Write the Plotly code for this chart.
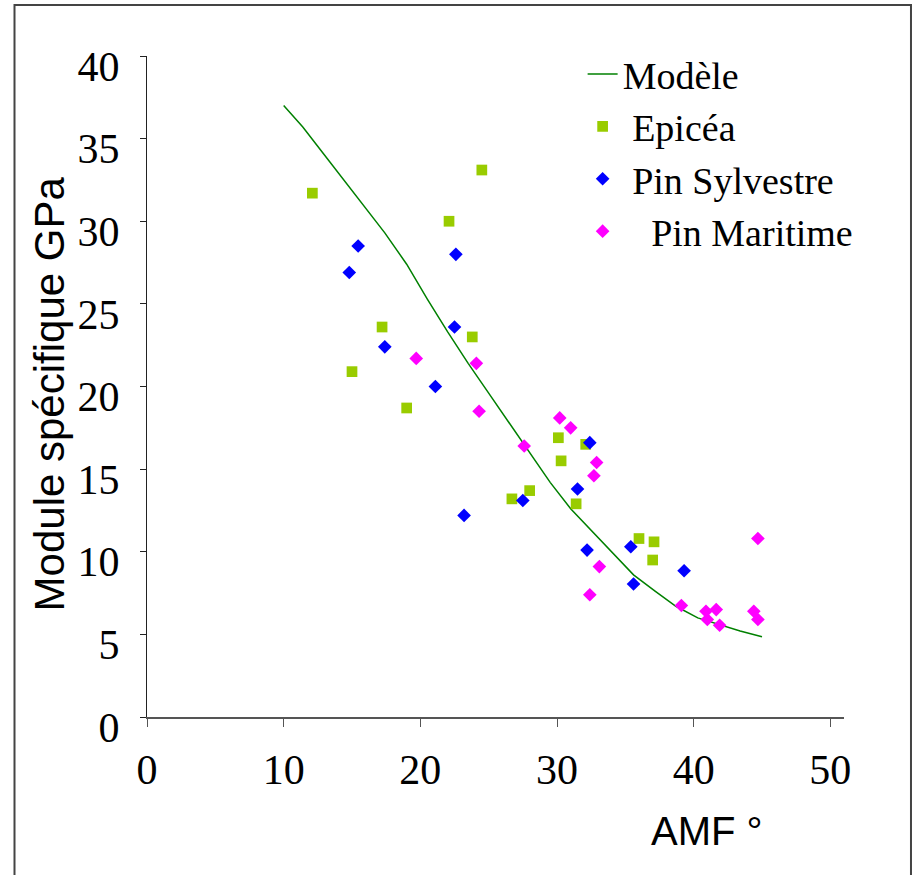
import plotly.graph_objects as go

# ---- data ----
model_x = [10, 11.4, 12.9, 14.4, 15.9, 17.4, 19, 20.5, 22, 23.5, 25, 26.5, 28, 29.5,
           31, 32.5, 34, 35.6, 37.2, 38.7, 40.3, 41.8, 43.4, 45]
model_y = [37.0, 35.7, 34.1, 32.5, 30.9, 29.3, 27.4, 25.3, 23.3, 21.4, 19.6, 17.8, 16.0, 14.2,
           12.6, 11.3, 10.0, 8.6, 7.6, 6.7, 6.0, 5.6, 5.2, 4.85]

epicea_x = [12.1, 24.5, 22.1, 17.2, 23.8, 15.0, 19.0, 30.1, 32.1, 30.3, 28.0, 26.7, 31.4, 36.0, 37.1, 37.0]
epicea_y = [31.7, 33.1, 30.0, 23.6, 23.0, 20.9, 18.7, 16.9, 16.5, 15.5, 13.7, 13.2, 12.9, 10.8, 10.6, 9.5]

sylv_x = [15.45, 14.8, 22.6, 22.5, 17.4, 21.1, 23.2, 27.5, 32.4, 31.5, 32.2, 35.4, 35.6, 39.3]
sylv_y = [28.5, 26.9, 28.0, 23.6, 22.4, 20.0, 12.2, 13.1, 16.6, 13.8, 10.1, 10.3, 8.05, 8.85]

mar_x = [19.7, 24.1, 24.3, 27.6, 30.2, 31.0, 32.9, 32.7, 33.1, 32.4, 39.1, 40.9, 41.0, 41.65, 41.9, 44.4, 44.7, 44.7]
mar_y = [21.7, 21.4, 18.5, 16.4, 18.1, 17.5, 15.4, 14.6, 9.1, 7.4, 6.75, 6.4, 5.9, 6.5, 5.55, 6.4, 5.9, 10.8]

x_ticks = [0, 10, 20, 30, 40, 50]
y_ticks = [0, 5, 10, 15, 20, 25, 30, 35, 40]

SERIF = "Liberation Serif, Times New Roman, serif"
SANS = "Liberation Sans, Arial, sans-serif"

fig = go.Figure()
fig.add_trace(go.Scatter(x=model_x, y=model_y, mode="lines", name="Modèle",
                         line=dict(color="#008000", width=1.5), legendgroup="a"))
fig.add_trace(go.Scatter(x=epicea_x, y=epicea_y, mode="markers", name="\u00a0Epicéa",
                         marker=dict(symbol="square", size=10.7, color="#99CC00"), legendgroup="b"))
fig.add_trace(go.Scatter(x=sylv_x, y=sylv_y, mode="markers", name="\u00a0Pin Sylvestre",
                         marker=dict(symbol="diamond", size=10.5, color="#0000FF"), legendgroup="c"))
fig.add_trace(go.Scatter(x=mar_x, y=mar_y, mode="markers", name="\u00a0\u00a0\u00a0Pin Maritime",
                         marker=dict(symbol="diamond", size=10.5, color="#FF00FF"), legendgroup="d"))

fig.update_layout(
    width=915, height=875,
    margin=dict(l=147, r=71, t=56, b=158),
    paper_bgcolor="white", plot_bgcolor="white",
    showlegend=True,
    legend=dict(x=0.625, y=1.02, xanchor="left", yanchor="top",
                font=dict(family=SERIF, size=38, color="black"),
                bgcolor="rgba(0,0,0,0)", tracegroupgap=0),
    xaxis=dict(range=[0, 51], tickvals=x_ticks, ticks="outside", ticklen=8,
               showline=True, linecolor="#555", linewidth=1.5, showgrid=False, zeroline=False,
               tickfont=dict(family=SERIF, size=42, color="black"), tickcolor="#555",
               ticklabelstandoff=7),
    yaxis=dict(range=[0, 40], tickvals=y_ticks, ticks="outside", ticklen=6,
               showline=True, linecolor="#222", linewidth=1.2, showgrid=False, zeroline=False,
               tickfont=dict(family=SERIF, size=42, color="black"), tickcolor="#222",
               ticklabelstandoff=12, ticklabelshift=10),
    annotations=[
        dict(text="Module spécifique GPa", xref="paper", yref="paper", x=-0.1406, y=0.488,
             textangle=-90, showarrow=False, xanchor="center", yanchor="middle",
             font=dict(family=SANS, size=42, color="black")),
        dict(text="AMF °", xref="paper", yref="paper", x=0.8034, y=-0.173,
             showarrow=False, xanchor="center", yanchor="middle",
             font=dict(family=SANS, size=40, color="black")),
    ],
    shapes=[dict(type="rect", xref="paper", yref="paper", x0=-0.1901, x1=1.0961,
                 y0=-0.4, y1=1.0772, line=dict(color="#444", width=2), layer="below")],
)

fig.write_html(
    "out.html",
    config={"displayModeBar": False},
    post_script="document.documentElement.style.margin='0';document.body.style.margin='0';"
                "document.body.style.overflow='hidden';",
)
